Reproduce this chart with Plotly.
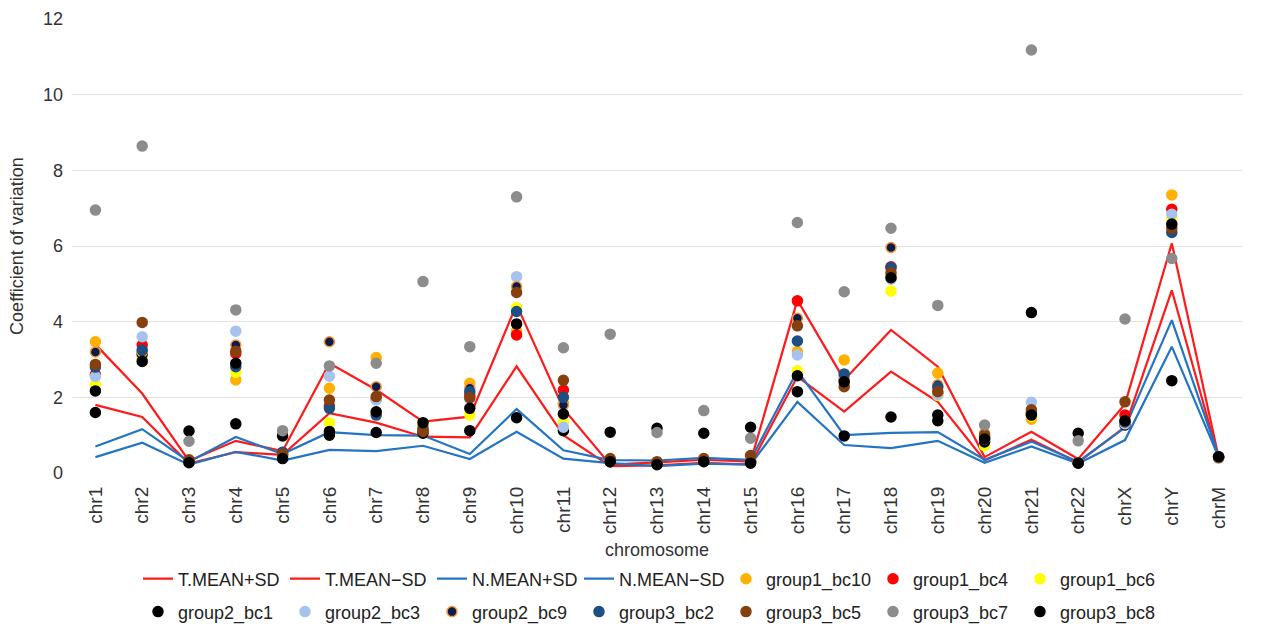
import plotly.graph_objects as go

# Chromosome categories on the x axis
chromosomes = ["chr1", "chr2", "chr3", "chr4", "chr5", "chr6", "chr7", "chr8", "chr9",
               "chr10", "chr11", "chr12", "chr13", "chr14", "chr15", "chr16", "chr17",
               "chr18", "chr19", "chr20", "chr21", "chr22", "chrX", "chrY", "chrM"]

# Tumour / normal mean +- SD envelopes
t_mean_plus_sd = [3.40, 2.10, 0.32, 0.85, 0.58, 2.90, 2.20, 1.36, 1.49, 4.45, 1.70, 0.22, 0.28,
                  0.35, 0.30, 4.57, 2.46, 3.78, 2.81, 0.42, 1.09, 0.37, 1.82, 6.07, 0.42]
t_mean_minus_sd = [1.80, 1.48, 0.25, 0.55, 0.48, 1.58, 1.33, 0.96, 0.94, 2.82, 1.00, 0.18, 0.20,
                   0.27, 0.22, 2.55, 1.62, 2.68, 1.88, 0.33, 0.88, 0.28, 1.22, 4.83, 0.40]
n_mean_plus_sd = [0.70, 1.16, 0.30, 0.95, 0.50, 1.08, 1.00, 0.99, 0.50, 1.69, 0.60, 0.34, 0.33,
                  0.40, 0.35, 2.70, 1.00, 1.06, 1.08, 0.35, 0.83, 0.30, 1.20, 4.04, 0.45]
n_mean_minus_sd = [0.42, 0.80, 0.22, 0.56, 0.33, 0.61, 0.58, 0.72, 0.37, 1.09, 0.38, 0.26, 0.18,
                   0.25, 0.22, 1.88, 0.74, 0.66, 0.85, 0.27, 0.70, 0.25, 0.87, 3.34, 0.42]

# Per-sample coefficient of variation
group1_bc10 = [3.47, 3.10, 0.30, 2.46, 0.45, 2.24, 3.05, 1.20, 2.37, 3.75, 1.85, 0.30, 0.25,
               0.32, 0.30, 3.21, 2.99, 5.20, 2.64, 0.85, 1.42, 0.27, 1.30, 7.35, 0.42]
group1_bc4 = [2.60, 3.38, 0.30, 3.16, 0.45, 1.77, 1.95, 1.20, 2.05, 3.65, 2.19, 0.30, 0.25,
              0.32, 0.30, 4.55, 2.45, 5.45, 2.10, 0.90, 1.55, 0.27, 1.53, 6.97, 0.42]
group1_bc6 = [2.33, 3.04, 0.30, 2.66, 0.45, 1.33, 1.60, 1.25, 1.53, 4.37, 1.34, 0.30, 0.25,
              0.32, 0.30, 2.70, 2.40, 4.81, 2.05, 0.72, 1.50, 0.27, 1.30, 6.73, 0.42]
group2_bc1 = [2.17, 3.15, 1.11, 1.30, 0.98, 1.10, 1.07, 1.05, 1.12, 1.46, 1.12, 1.08, 1.18,
              1.05, 1.21, 2.15, 0.98, 1.48, 1.38, 0.82, 4.24, 1.05, 1.27, 2.44, 0.43]
group2_bc3 = [2.55, 3.60, 0.30, 3.75, 0.50, 2.56, 1.93, 1.15, 1.95, 5.19, 1.21, 0.30, 0.25,
              0.32, 0.30, 3.12, 2.50, 5.12, 2.07, 0.90, 1.87, 0.27, 1.30, 6.84, 0.42]
group2_bc9 = [3.20, 3.20, 0.30, 3.38, 0.50, 3.47, 2.28, 1.20, 2.24, 4.93, 1.80, 0.30, 0.25,
              0.32, 0.30, 4.09, 2.55, 5.96, 2.33, 1.05, 1.62, 0.27, 1.35, 6.55, 0.42]
group3_bc2 = [2.80, 3.25, 0.30, 2.81, 0.55, 1.71, 1.53, 1.15, 2.15, 4.27, 2.00, 0.30, 0.25,
              0.32, 0.30, 3.49, 2.62, 5.43, 2.27, 0.95, 1.58, 0.27, 1.35, 6.36, 0.42]
group3_bc5 = [2.87, 3.98, 0.35, 3.22, 0.50, 1.93, 2.02, 1.10, 1.99, 4.77, 2.45, 0.38, 0.30,
              0.38, 0.46, 3.89, 2.28, 5.29, 2.15, 1.00, 1.67, 0.27, 1.88, 6.47, 0.40]
group3_bc7 = [6.95, 8.64, 0.84, 4.31, 1.12, 2.83, 2.90, 5.06, 3.34, 7.30, 3.31, 3.67, 1.07,
              1.65, 0.92, 6.62, 4.79, 6.47, 4.43, 1.27, 11.18, 0.85, 4.07, 5.67, 0.42]
group3_bc8 = [1.60, 2.95, 0.27, 2.90, 0.38, 1.00, 1.62, 1.33, 1.71, 3.94, 1.56, 0.30, 0.22,
              0.30, 0.26, 2.57, 2.41, 5.16, 1.53, 0.90, 1.53, 0.26, 1.38, 6.58, 0.43]

FONT = "Liberation Sans, Arial, sans-serif"
RED = "#ff1a1a"
BLUE = "#2474c4"

fig = go.Figure()

line_series = [
    ("T.MEAN+SD", t_mean_plus_sd, RED),
    ("T.MEAN\u2212SD", t_mean_minus_sd, RED),
    ("N.MEAN+SD", n_mean_plus_sd, BLUE),
    ("N.MEAN\u2212SD", n_mean_minus_sd, BLUE),
]
for name, vals, color in line_series:
    fig.add_trace(go.Scatter(
        x=chromosomes, y=vals, name=name, mode="lines",
        line=dict(color=color, width=2.2), legend="legend",
    ))

# (name, values, fill colour, outline colour, legend)
dot_series = [
    ("group1_bc10", group1_bc10, "#ffb000", "#ffb000", "legend"),
    ("group1_bc4", group1_bc4, "#ff0000", "#ff0000", "legend"),
    ("group1_bc6", group1_bc6, "#ffff00", "#ffff00", "legend"),
    ("group2_bc1", group2_bc1, "#000000", "#000000", "legend2"),
    ("group2_bc3", group2_bc3, "#a6c3ee", "#a6c3ee", "legend2"),
    ("group2_bc9", group2_bc9, "#0c1a4a", "#f29a3a", "legend2"),
    ("group3_bc2", group3_bc2, "#1d4f82", "#1d4f82", "legend2"),
    ("group3_bc5", group3_bc5, "#86400e", "#86400e", "legend2"),
    ("group3_bc7", group3_bc7, "#8c8c8c", "#8c8c8c", "legend2"),
    ("group3_bc8", group3_bc8, "#000000", "#000000", "legend2"),
]
for name, vals, fill, edge, leg in dot_series:
    fig.add_trace(go.Scatter(
        x=chromosomes, y=vals, name=name, mode="markers",
        marker=dict(size=10, color=fill, line=dict(color=edge, width=1.5)),
        legend=leg,
    ))

legend_common = dict(
    orientation="h", xanchor="left", yanchor="middle",
    entrywidth=102, entrywidthmode="pixels",
    font=dict(family=FONT, size=18, color="#222222"),
    bgcolor="rgba(0,0,0,0)", itemclick=False,
)

fig.update_layout(
    width=1282, height=627,
    margin=dict(l=72, r=40, t=19, b=154, autoexpand=False),
    plot_bgcolor="white", paper_bgcolor="white",
    font=dict(family=FONT, size=18, color="#333333"),
    showlegend=True,
    legend=dict(x=0.0564, y=-0.2335, **legend_common),
    legend2=dict(x=0.0564, y=-0.306, **legend_common),
    xaxis=dict(
        type="category", range=[-0.5, len(chromosomes) - 0.5],
        tickangle=-90, showgrid=False, showline=False, zeroline=False,
        ticks="", ticklabelstandoff=9,
        tickfont=dict(family=FONT, size=19, color="#333333"),
        title=dict(text="chromosome", font=dict(family=FONT, size=18, color="#333333"), standoff=10),
        automargin=False,
    ),
    yaxis=dict(
        range=[0, 12], dtick=2, showgrid=True, gridcolor="#e3e3e3", gridwidth=1.3,
        zeroline=False, showline=False, ticks="", ticklabelstandoff=8,
        tickfont=dict(family=FONT, size=18, color="#333333"),
        title=dict(text="Coefficient of variation", font=dict(family=FONT, size=18, color="#333333"), standoff=14),
        automargin=False,
    ),
)

fig.write_html("out.html")
